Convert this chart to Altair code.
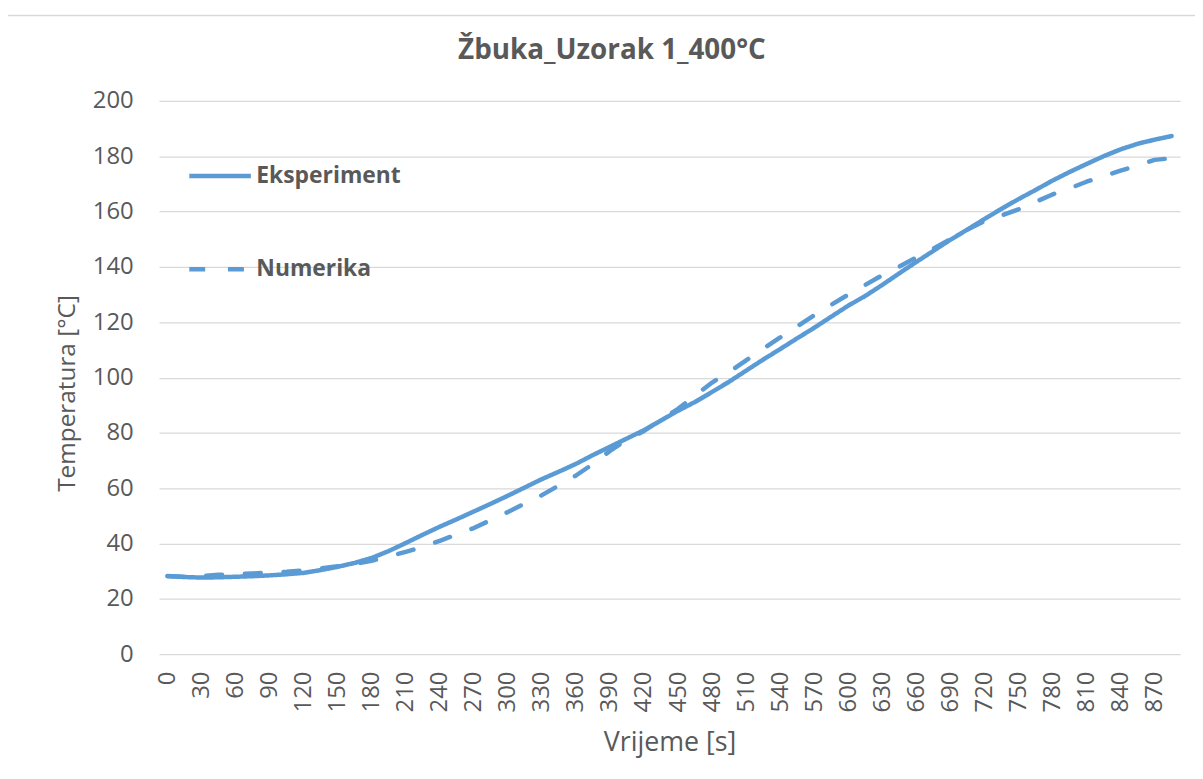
import altair as alt
import pandas as pd

times = list(range(0, 900, 15))

eksperiment = [
    28.2, 27.9, 27.7, 27.8, 28.0, 28.2, 28.5, 28.9, 29.4, 30.4,
    31.6, 33.0, 34.8, 37.3, 40.2, 43.2, 46.1, 48.8, 51.6, 54.4,
    57.3, 60.3, 63.3, 66.0, 68.8, 72.0, 75.0, 78.0, 81.0, 84.5,
    88.0, 91.2, 94.8, 98.5, 102.5, 106.5, 110.3, 114.2, 118.0, 122.0,
    126.0, 129.5, 133.5, 137.7, 141.8, 145.8, 149.8, 153.5, 157.3, 161.0,
    164.5, 167.8, 171.2, 174.3, 177.2, 180.0, 182.5, 184.5, 186.0, 187.3,
]

numerika = [
    28.3, 28.0, 28.3, 28.7, 29.0, 29.2, 29.5, 29.8, 30.3, 31.0,
    31.8, 32.6, 33.8, 35.3, 37.0, 38.8, 41.0, 43.3, 45.6, 48.5,
    51.4, 54.5, 57.5, 61.0, 64.6, 68.8, 73.5, 77.5, 80.7, 84.8,
    88.7, 93.5, 98.2, 102.0, 106.2, 110.4, 114.5, 118.5, 122.5, 126.3,
    130.0, 133.5, 137.0, 140.1, 143.4, 146.6, 150.0, 153.5, 156.5, 158.6,
    160.8, 163.5, 166.2, 168.4, 170.8, 172.8, 174.8, 176.7, 178.7, 179.3,
]

series_names = ["Eksperiment", "Numerika"]
x_ticks = list(range(0, 900, 30))
y_ticks = list(range(0, 201, 20))

BLUE = "#5B9BD5"
TXT = "#595959"
GRID = "#D9D9D9"
FONT = "Open Sans"

df = pd.DataFrame({
    "t": times * 2,
    "v": eksperiment + numerika,
    "series": [series_names[0]] * len(times) + [series_names[1]] * len(times),
})

lines = alt.Chart(df).mark_line(
    color=BLUE, strokeWidth=4.5, strokeCap="round", strokeJoin="round"
).encode(
    x=alt.X(
        "t:Q",
        scale=alt.Scale(domain=[-7.5, 892.5], nice=False, zero=False),
        axis=alt.Axis(
            values=x_ticks, format="d", labelAngle=270, grid=False, domain=False,
            ticks=False, tickSize=0, labelPadding=17, labelFontSize=24,
            labelColor=TXT, labelFont=FONT, labelOverlap=False, labelFlush=False,
            title="Vrijeme [s]", titleFontSize=27, titleFontWeight="normal",
            titleColor=TXT, titleFont=FONT, titleX=514, titleY=89,
            titleBaseline="middle", titleAlign="center",
        ),
    ),
    y=alt.Y(
        "v:Q",
        scale=alt.Scale(domain=[0, 200], nice=False, zero=True),
        axis=alt.Axis(
            values=y_ticks, format="d", grid=True, gridColor=GRID, gridWidth=1.3,
            domain=False, ticks=False, tickSize=0, labelPadding=26, labelFontSize=24,
            labelColor=TXT, labelFont=FONT, labelFlush=False,
            title="Temperatura [°C]", titleFontSize=24.5, titleFontWeight="normal",
            titleColor=TXT, titleFont=FONT, titleX=-92, titleY=294,
            titleBaseline="middle", titleAlign="center", titleAngle=270,
        ),
    ),
    strokeDash=alt.StrokeDash(
        "series:N",
        scale=alt.Scale(domain=series_names, range=[[1, 0], [16, 23]]),
        legend=alt.Legend(
            title=None, orient="none", legendX=28, legendY=42,
            symbolType="stroke", symbolSize=3844, symbolStrokeWidth=4.5,
            symbolStrokeColor=BLUE, labelFontSize=23, labelFontWeight="bold",
            labelColor=TXT, labelFont=FONT, labelOffset=3, rowPadding=48,
            padding=0,
        ),
    ),
)

frame_df = pd.DataFrame({"k": [0]})
top_border = alt.Chart(frame_df).mark_rule(color=GRID, strokeWidth=1.5).encode(
    x=alt.value(-156.5), x2=alt.value(1060), y=alt.value(-86)
)
left_border = alt.Chart(frame_df).mark_rule(color=GRID, strokeWidth=1.5).encode(
    x=alt.value(-156.5), y=alt.value(-86), y2=alt.value(700)
)

chart = alt.layer(top_border, left_border, lines).properties(
    width=1028,
    height=557,
    autosize=alt.AutoSizeParams(type="none"),
    padding={"left": 152, "top": 91, "right": 15, "bottom": 115},
    title=alt.TitleParams(
        "Žbuka_Uzorak 1_400°C", fontSize=28, fontWeight="bold", color=TXT,
        font=FONT, anchor="middle", frame="group", dx=-58, offset=-51,
    ),
).configure_view(stroke=None)

chart.save("out.html", embed_options={"renderer": "svg", "actions": False})
